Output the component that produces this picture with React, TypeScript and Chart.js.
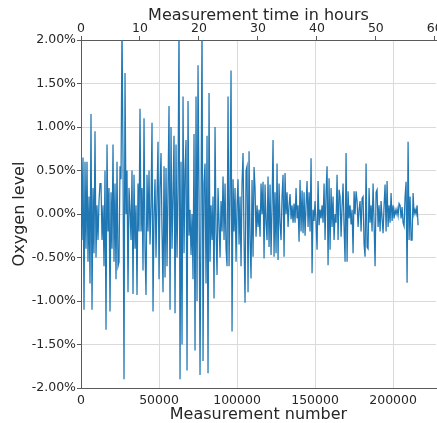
import React, { useEffect, useRef } from "react";
import { Chart, registerables } from "chart.js";

Chart.register(...registerables);

// Oxygen level readings (percent), one reading every SAMPLE_STEP measurements
const oxygenPct: number[] = [
  1.25, -0.3, 0.65, -1.1, 0.6, -0.4, 0.6, -0.55, 0.2, -0.8,
  1.15, -1.1, 0.3, -0.45, 0.95, -0.5, 0.1, -0.3, 0.15, 0.35,
  0.35, -0.3, 0.1, -0.6, 0.5, -1.33, 0.8, -0.2, 0.3, -1.12,
  0.25, -0.4, 0.8, -0.55, 0.35, -0.75, 0.6, -0.6, -0.55, 0.55,
  0.4, 2.2, 0.6, -1.9, 1.62, 0.0, 0.5, -0.9, 0.3, 0.05,
  -0.3, 0.5, -0.92, 0.45, -0.4, 0.1, -0.93, 0.35, -0.2, 1.21,
  -0.2, 0.3, -0.65, 1.1, -0.4, -0.93, 0.45, -0.2, 0.5, -0.35,
  0.1, 1.05, -1.12, 0.0, 0.4, -0.5, 0.2, 0.83, -0.75, 0.3,
  0.7, -0.2, -0.9, 0.55, -0.73, 0.53, -0.6, 0.3, 1.24, -1.1,
  1.0, -0.4, 0.2, 0.9, -1.14, 0.8, -0.5, 0.3, 2.2, -1.9,
  0.6, -1.5, 1.35, -0.45, 0.5, 0.85, -1.8, 1.3, -0.25, 0.05,
  -0.47, 0.0, -0.75, 0.92, -1.57, 1.35, -1.0, 1.71, 0.2, -1.85,
  0.1, 2.2, -1.69, 0.35, 0.58, -0.8, 0.9, -1.83, 1.39, -0.55,
  0.1, -0.3, 0.2, -0.97, 1.0, -0.2, -0.7, 0.3, -0.1, -0.5,
  0.15, -0.2, 0.43, -0.3, 0.35, -0.4, -0.6, 1.35, -0.6, 0.2,
  1.65, -1.35, 0.4, -0.2, 0.3, -0.55, 0.1, 0.4, -0.35, 0.2,
  -0.6, 0.35, 0.7, -0.3, -1.02, 0.5, 0.55, -0.9, 0.72, -0.3,
  -0.74, 0.39, -0.49, 0.54, 0.3, -0.26, 0.1, -0.15, 0.05, -0.26,
  0.35, 0.0, 0.37, -0.51, 0.34, -0.1, -0.3, 0.43, -0.38, 0.34,
  -0.47, 0.1, 0.85, -0.49, 0.25, -0.45, 0.58, -0.53, 0.35, -0.1,
  -0.3, 0.2, 0.45, -0.49, 0.47, 0.0, 0.25, -0.15, 0.1, 0.23,
  -0.06, 0.1, -0.1, 0.12, -0.1, 0.3, -0.05, 0.1, -0.32, 0.39,
  -0.2, 0.27, -0.22, 0.25, -0.25, 0.1, 0.38, -0.15, 0.25, -0.2,
  0.64, -0.68, 0.05, -0.08, 0.15, -0.1, -0.41, 0.38, -0.13, 0.05,
  -0.05, 0.1, -0.1, 0.35, -0.3, 0.25, 0.55, -0.59, 0.41, -0.41,
  0.3, -0.15, 0.2, -0.3, 0.0, -0.1, 0.45, -0.3, 0.28, 0.2,
  -0.26, 0.08, 0.35, -0.15, -0.55, 0.7, -0.55, 0.26, -0.05, 0.1,
  -0.12, 0.05, -0.45, 0.26, 0.0, 0.26, 0.15, -0.15, 0.05, 0.15,
  -0.2, 0.18, 0.2, -0.35, -0.49, 0.58, -0.38, -0.4, 0.3, -0.1,
  0.1, -0.2, 0.35, -0.1, -0.6, 0.25, 0.28, -0.15, 0.1, -0.2,
  0.15, -0.05, -0.22, 0.1, 0.34, -0.2, 0.38, -0.15, 0.1, -0.1,
  0.24, -0.08, 0.1, -0.05, 0.05, 0.0, 0.06, -0.02, 0.12, 0.1,
  -0.05, 0.08, -0.1, -0.14, 0.2, 0.37, -0.79, 0.83, -0.3, 0.2,
  -0.3, -0.3, 0.24, 0.0, 0.05, 0.0, 0.1, -0.13,
];

const SAMPLE_STEP = 641; // measurements between plotted readings
const X_MAX = 227500; // measurement-number axis limit
const HOURS_MAX = 60.2; // time axis limit (hours)
const measurementTicks = [0, 50000, 100000, 150000, 200000];
const hourTicks = [0, 10, 20, 30, 40, 50, 60];
const oxygenTicks = [-2, -1.5, -1, -0.5, 0, 0.5, 1, 1.5, 2];

const FONT = "'DejaVu Sans', sans-serif";
const TEXT = "#262626";
const GRID = "#dadada";
const SPINE = "#5a5a5a";

const setTicks = (vals: number[]) => (s: any) => {
  s.ticks = vals.map((v) => ({ value: v }));
};

export default function App() {
  const ref = useRef<HTMLCanvasElement | null>(null);

  useEffect(() => {
    document.body.style.margin = "0";
    document.body.style.overflow = "hidden";
    const canvas = ref.current;
    if (!canvas) return;
    const points = oxygenPct.map((v, i) => ({ x: i * SAMPLE_STEP, y: v }));
    const chart = new Chart(canvas, {
      type: "line",
      data: {
        datasets: [
          {
            data: points,
            borderColor: "#1f77b4",
            borderWidth: 1.25,
            pointRadius: 0,
            tension: 0,
            fill: false,
            xAxisID: "x",
            yAxisID: "y",
          },
        ],
      },
      options: {
        responsive: false,
        animation: false,
        devicePixelRatio: 1,
        layout: { padding: { left: 0, right: 16, top: 0, bottom: 0 } },
        plugins: { legend: { display: false }, tooltip: { enabled: false } },
        scales: {
          x: {
            type: "linear",
            position: "bottom",
            min: 0,
            max: X_MAX,
            afterBuildTicks: setTicks(measurementTicks),
            afterFit: (s: any) => {
              s.height = 35;
            },
            ticks: {
              padding: 5,
              maxRotation: 0,
              autoSkip: false,
              color: TEXT,
              font: { family: FONT, size: 12.5 },
              callback: (v: any) => String(v),
            },
            grid: { color: GRID, lineWidth: 1, drawTicks: false },
            border: { color: SPINE, width: 1 },
            title: {
              display: true,
              text: "Measurement number",
              color: TEXT,
              font: { family: FONT, size: 16 },
              padding: { top: 0, bottom: -1.5 },
            },
          },
          x2: {
            type: "linear",
            position: "top",
            min: 0,
            max: HOURS_MAX,
            afterBuildTicks: setTicks(hourTicks),
            afterFit: (s: any) => {
              s.height = 40;
            },
            ticks: {
              padding: 0,
              maxRotation: 0,
              autoSkip: false,
              color: TEXT,
              font: { family: FONT, size: 12.5 },
              callback: (v: any) => String(v),
            },
            grid: {
              drawOnChartArea: false,
              drawTicks: true,
              tickLength: 4,
              tickColor: SPINE,
              color: SPINE,
            },
            border: { color: SPINE, width: 1 },
            title: {
              display: true,
              text: "Measurement time in hours",
              color: TEXT,
              font: { family: FONT, size: 16 },
              padding: { top: 6.5, bottom: 0 },
            },
          },
          y: {
            type: "linear",
            position: "left",
            min: -2,
            max: 2,
            afterBuildTicks: setTicks(oxygenTicks),
            afterFit: (s: any) => {
              s.width = 81;
            },
            ticks: {
              padding: 1,
              autoSkip: false,
              color: TEXT,
              font: { family: FONT, size: 12.5 },
              callback: (v: any) => Number(v).toFixed(2) + "%",
            },
            grid: {
              color: GRID,
              lineWidth: 1,
              drawTicks: true,
              tickLength: 4,
              tickColor: SPINE,
            },
            border: { color: SPINE, width: 1 },
            title: {
              display: true,
              text: "Oxygen level",
              color: TEXT,
              font: { family: FONT, size: 16 },
              padding: { top: 10, bottom: 0 },
            },
          },
        },
      },
    });
    return () => chart.destroy();
  }, []);

  return (
    <div
      style={{
        position: "absolute",
        left: 0,
        top: 0,
        width: 437,
        height: 423,
        overflow: "hidden",
        background: "#fff",
      }}
    >
      <canvas ref={ref} width={452} height={423} style={{ display: "block" }} />
    </div>
  );
}
